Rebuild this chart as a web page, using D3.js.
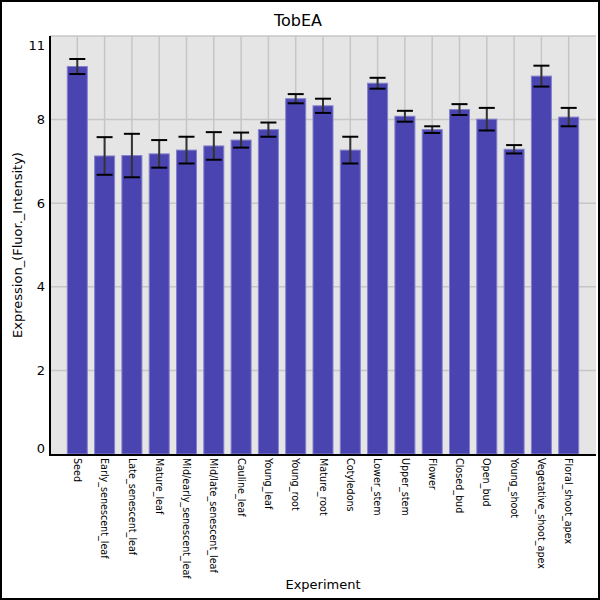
<!DOCTYPE html>
<html>
<head>
<meta charset="utf-8">
<script src="https://cdn.jsdelivr.net/npm/d3@7"></script>
<style>
  body { margin: 0; background: #fff; }
  text { font-family: "DejaVu Sans", sans-serif; }
</style>
</head>
<body>
<div id="chart"></div>
<script>
const experiments = [
    "Seed", "Early_senescent_leaf", "Late_senescent_leaf", "Mature_leaf",
    "Mid/early_senescent_leaf", "Mid/late_senescent_leaf", "Cauline_leaf",
    "Young_leaf", "Young_root", "Mature_root", "Cotyledons", "Lower_stem",
    "Upper_stem", "Flower", "Closed_bud", "Open_bud", "Young_shoot",
    "Vegetative_shoot_apex", "Floral_shoot_apex"
];
const means = [9.27, 7.13, 7.14, 7.18, 7.27, 7.37, 7.51, 7.76, 8.50, 8.33,
    7.27, 8.87, 8.08, 7.76, 8.24, 8.01, 7.29, 9.04, 8.06];
const sds = [0.18, 0.45, 0.52, 0.33, 0.32, 0.33, 0.18, 0.17, 0.11, 0.17,
    0.32, 0.13, 0.13, 0.08, 0.13, 0.27, 0.10, 0.25, 0.22];
const yTicks = [0, 2, 4, 6, 8, 10];
const yTickLabels = ["0", "2", "4", "6", "8", "11"];

const W = 600, H = 600;
const margin = { top: 36, right: 4, bottom: 146, left: 50 };
const width = W - margin.left - margin.right;
const height = H - margin.top - margin.bottom;

const svg = d3.select("#chart").append("svg")
    .attr("width", W)
    .attr("height", H);

// outer frame
svg.append("rect")
    .attr("x", 1).attr("y", 1)
    .attr("width", W - 2).attr("height", H - 2)
    .attr("fill", "#fff")
    .attr("stroke", "#000")
    .attr("stroke-width", 2);

const g = svg.append("g")
    .attr("transform", "translate(" + margin.left + "," + margin.top + ")");

const x = d3.scalePoint()
    .domain(experiments)
    .range([0, width])
    .padding(1);

const y = d3.scaleLinear()
    .domain([0, 10])
    .range([height, 0]);

const barWidth = 20;
const capWidth = 16;

// plot background
g.append("rect")
    .attr("width", width)
    .attr("height", height)
    .attr("fill", "#e5e5e5");

// grid
g.selectAll(".vgrid")
    .data(experiments)
    .enter().append("line")
    .attr("class", "vgrid")
    .attr("x1", d => x(d)).attr("x2", d => x(d))
    .attr("y1", 0).attr("y2", height)
    .attr("stroke", "#c6c6c6")
    .attr("stroke-width", 1.5);

g.selectAll(".hgrid")
    .data(yTicks.filter(t => t > 0 && t < 10))
    .enter().append("line")
    .attr("class", "hgrid")
    .attr("x1", 0).attr("x2", width)
    .attr("y1", d => y(d)).attr("y2", d => y(d))
    .attr("stroke", "#c6c6c6")
    .attr("stroke-width", 1.5);

g.append("line")
    .attr("x1", 0).attr("x2", width)
    .attr("y1", 0).attr("y2", 0)
    .attr("stroke", "#c6c6c6")
    .attr("stroke-width", 1.5);

// bars
g.selectAll(".bar")
    .data(experiments)
    .enter().append("rect")
    .attr("class", "bar")
    .attr("x", d => x(d) - barWidth / 2)
    .attr("y", (d, i) => y(means[i]))
    .attr("width", barWidth)
    .attr("height", (d, i) => height - y(means[i]))
    .attr("fill", "#4a44b1")
    .attr("stroke", "#8480cc")
    .attr("stroke-width", 1);

// error bars
const err = g.selectAll(".err")
    .data(experiments)
    .enter().append("g")
    .attr("class", "err");

err.append("line")
    .attr("x1", d => x(d)).attr("x2", d => x(d))
    .attr("y1", (d, i) => y(means[i] + sds[i]))
    .attr("y2", (d, i) => y(means[i] - sds[i]))
    .attr("stroke", "#333")
    .attr("stroke-width", 2);

err.append("line")
    .attr("x1", d => x(d) - capWidth / 2).attr("x2", d => x(d) + capWidth / 2)
    .attr("y1", (d, i) => y(means[i] + sds[i]))
    .attr("y2", (d, i) => y(means[i] + sds[i]))
    .attr("stroke", "#000")
    .attr("stroke-width", 2);

err.append("line")
    .attr("x1", d => x(d) - capWidth / 2).attr("x2", d => x(d) + capWidth / 2)
    .attr("y1", (d, i) => y(means[i] - sds[i]))
    .attr("y2", (d, i) => y(means[i] - sds[i]))
    .attr("stroke", "#000")
    .attr("stroke-width", 2);

// axes lines
g.append("line")
    .attr("x1", 0).attr("x2", 0)
    .attr("y1", 0).attr("y2", height + 1)
    .attr("stroke", "#000")
    .attr("stroke-width", 2);

g.append("line")
    .attr("x1", -1).attr("x2", width)
    .attr("y1", height + 1).attr("y2", height + 1)
    .attr("stroke", "#000")
    .attr("stroke-width", 2);

// y tick labels (kept inside the plot's vertical extent)
g.selectAll(".ylab")
    .data(yTicks)
    .enter().append("text")
    .attr("class", "ylab")
    .attr("x", -5)
    .attr("y", d => Math.min(Math.max(y(d), 9), height - 6))
    .attr("dy", "0.35em")
    .attr("text-anchor", "end")
    .attr("font-size", "13px")
    .attr("fill", "#000")
    .text((d, i) => yTickLabels[i]);

// x tick labels
g.selectAll(".xlab")
    .data(experiments)
    .enter().append("text")
    .attr("class", "xlab")
    .attr("transform", d => "translate(" + x(d) + "," + (height + 4) + ")rotate(90)")
    .attr("dy", "0.35em")
    .attr("text-anchor", "start")
    .attr("font-size", "9.6px")
    .attr("fill", "#000")
    .text(d => d);

// titles
svg.append("text")
    .attr("x", 298)
    .attr("y", 26)
    .attr("text-anchor", "middle")
    .attr("font-size", "16px")
    .text("TobEA");

svg.append("text")
    .attr("x", margin.left + width / 2)
    .attr("y", 589)
    .attr("text-anchor", "middle")
    .attr("font-size", "13px")
    .text("Experiment");

svg.append("text")
    .attr("transform", "translate(22," + (margin.top + height / 2) + ")rotate(-90)")
    .attr("text-anchor", "middle")
    .attr("font-size", "13px")
    .text("Expression_(Fluor._Intensity)");
</script>
</body>
</html>
